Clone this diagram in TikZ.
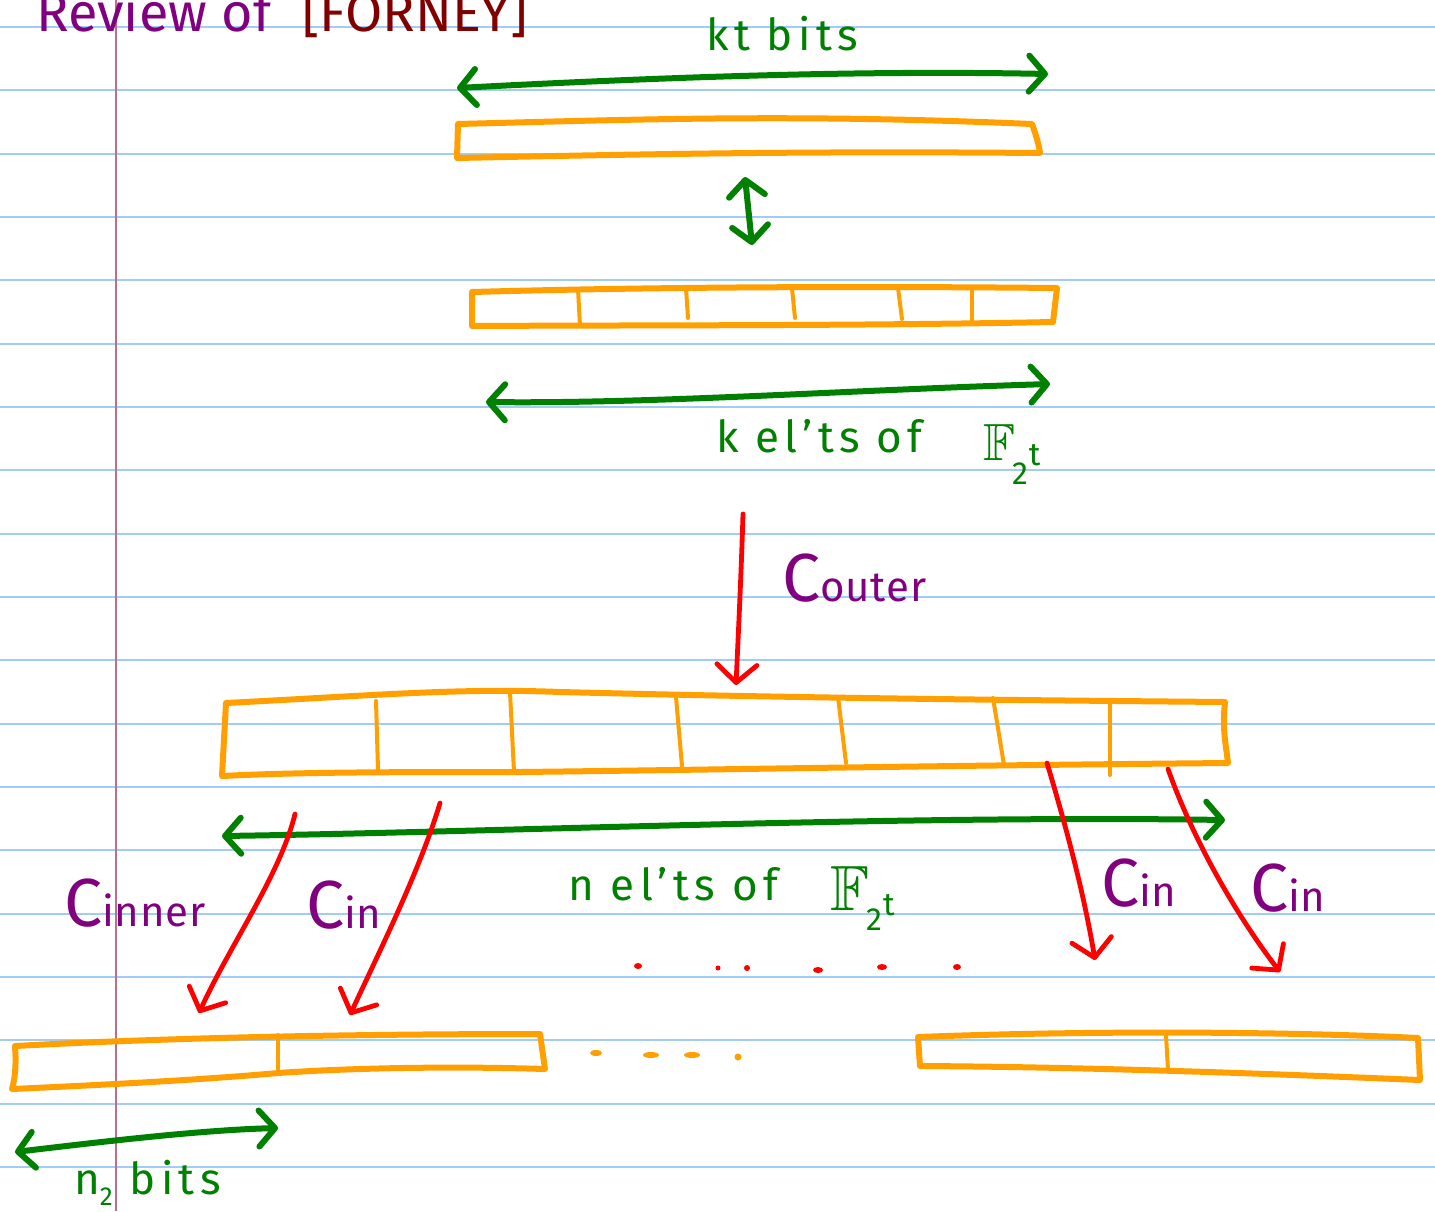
\RequirePackage{fix-cm}
\documentclass[tikz,border=0pt]{standalone}
\usepackage{fontspec}
\usepackage{amssymb}
\setmainfont{Fira Sans}
\usetikzlibrary{arrows.meta}
\definecolor{paperblue}{RGB}{160,204,245}
\definecolor{marginpink}{RGB}{190,110,140}
\definecolor{barorange}{RGB}{255,160,0}
\definecolor{pengreen}{RGB}{0,128,0}
\definecolor{penpurple}{RGB}{128,0,128}
\definecolor{penred}{RGB}{255,0,0}
\definecolor{darkred}{RGB}{128,0,0}
% #1 = height of the F, #2 = lowering of the 2, #3 = lowering of the t
\newcommand\fieldtwot[3]{\resizebox{!}{#1}{$\mathbb{F}$}\kern-3pt\raisebox{-#2}{\fontsize{32}{32}\selectfont 2}\kern1pt\raisebox{-#3}{\fontsize{32}{32}\selectfont t}}
\newcommand\bigC{\fontsize{68}{68}\selectfont C}
\newcommand\smalltail[1]{{\fontsize{42}{42}\selectfont\addfontfeature{LetterSpace=2}#1}}
\tikzset{
  gtip/.tip={Straight Barb[length=16pt,width=36pt,round]},
  rtip/.tip={Straight Barb[length=18pt,width=40pt,round]},
  ruled/.style={draw=paperblue,line width=2pt},
  marginline/.style={draw=marginpink,line width=1.5pt},
  bar/.style={draw=barorange,line width=6pt,line cap=round,line join=round},
  divider/.style={draw=barorange,line width=4pt,line cap=round},
  dimarrow/.style={draw=pengreen,line width=6pt,line cap=round,{gtip}-{gtip}},
  maparrow/.style={draw=penred,line width=4.8pt,line cap=round,-{rtip}},
  greenlabel/.style={text=pengreen,inner sep=0pt,font=\fontsize{44}{48}\selectfont\addfontfeature{LetterSpace=12}},
  purplelabel/.style={text=penpurple,inner sep=0pt},
  titlefont/.style={inner sep=0pt,font=\fontsize{54}{58}\selectfont},
  reddot/.style={fill=penred},
  orangedot/.style={fill=barorange}
}
\begin{document}
\begin{tikzpicture}[x=1pt,y=-1pt]
\useasboundingbox (0,0) rectangle (1435,1211);
\clip (0,0) rectangle (1435,1211);
\fill[white] (0,0) rectangle (1435,1211);
% ruled paper
\foreach \k in {0,...,18}{
  \draw[ruled] (0,27+63.33*\k) -- (1435,27+63.33*\k);
}
\draw[marginline] (116,0) -- (116,1211);

% title
\node[titlefont,anchor=base west,text=penpurple] (titleA) at (36,31) {Review of};
\node[titlefont,anchor=base west,text=darkred] (titleB) at (302,31) {[FORNEY]};

% top: kt bits
\node[greenlabel,anchor=base] (ktlabel) at (782,50) {kt bits};
\coordinate (ktL) at (457,88);
\coordinate (ktR) at (1048,74);
\draw[dimarrow] (ktL) .. controls (650,78) and (850,70) .. (ktR);

% top bar
\draw[bar] (458,124) .. controls (650,119) and (800,114) .. (1032,124)
  .. controls (1036,135) and (1039,145) .. (1040,153)
  .. controls (800,151) and (650,154) .. (457,158) -- cycle;

% vertical double arrow
\coordinate (vA) at (745,177);
\coordinate (vB) at (752,245);
\draw[dimarrow] (vA) -- (vB);

% second bar
\draw[bar] (472,292) .. controls (650,287) and (850,286) .. (1057,288)
  -- (1053,322) .. controls (850,326) and (650,325) .. (472,326) -- cycle;
\draw[divider] (578,289) -- (580,326);
\draw[divider] (686,288) -- (688,318);
\draw[divider] (792,288) -- (795,318);
\draw[divider] (898,288) -- (902,319);
\draw[divider] (972,288) -- (972,322);

% k el'ts arrow
\coordinate (kL) at (486,402);
\coordinate (kR) at (1050,384);
\draw[dimarrow] (kL) .. controls (650,404) and (850,390) .. (kR);
\node[greenlabel,anchor=base west] (klabel) at (716,452) {k el’ts of};
\node[greenlabel,anchor=base west] (kfield) at (983,460) {\fieldtwot{36pt}{24pt}{5pt}};

% outer code arrow
\coordinate (oS) at (743,514);
\coordinate (oE) at (736,685);
\draw[maparrow] (oS) .. controls (741,580) and (738,640) .. (oE);
\node[purplelabel,anchor=base west] (couter) at (782,601) {\bigC\smalltail{outer}};

% big bar
\draw[bar] (226,703) .. controls (380,695) and (460,688) .. (560,692)
  .. controls (800,698) and (1000,700) .. (1225,702)
  .. controls (1222,730) and (1226,745) .. (1228,763)
  .. controls (900,766) and (700,770) .. (520,772)
  .. controls (400,772) and (300,772) .. (222,776) -- cycle;
\draw[divider] (376,701) -- (378,770);
\draw[divider] (510,692) -- (514,772);
\draw[divider] (676,697) -- (682,766);
\draw[divider] (838,697) -- (846,763);
\draw[divider] (993,698) -- (1004,765);
\draw[divider] (1110,700) -- (1110,775);

% n el'ts arrow
\coordinate (nL) at (222,836);
\coordinate (nR) at (1225,820);
\draw[dimarrow] (nL) .. controls (500,832) and (900,815) .. (nR);
\node[greenlabel,anchor=base west] (nlabel) at (568,900) {n el’ts of};
\node[greenlabel,anchor=base west] (nfield) at (830,910) {\fieldtwot{44pt}{20pt}{5pt}};

% inner code arrows
\coordinate (r1S) at (295,814);
\coordinate (r1E) at (199,1013);
\draw[maparrow] (r1S) .. controls (280,875) and (230,945) .. (r1E);
\coordinate (r2S) at (440,803);
\coordinate (r2E) at (350,1015);
\draw[maparrow] (r2S) .. controls (420,870) and (380,950) .. (r2E);
\coordinate (r3S) at (1047,763);
\coordinate (r3E) at (1095,960);
\draw[maparrow] (r3S) .. controls (1070,840) and (1085,900) .. (r3E);
\coordinate (r4S) at (1168,769);
\coordinate (r4E) at (1280,972);
\draw[maparrow] (r4S) .. controls (1195,845) and (1240,920) .. (r4E);

\node[purplelabel,anchor=base west] (cinner) at (64,926) {\bigC\smalltail{inner}};
\node[purplelabel,anchor=base west] (cin1) at (306,928) {\bigC\smalltail{in}};
\node[purplelabel,anchor=base west] (cin2) at (1101,906) {\bigC\smalltail{in}};
\node[purplelabel,anchor=base west] (cin3) at (1250,911) {\bigC\smalltail{in}};

% red dots
\fill[reddot] (638,966) ellipse (4pt and 3pt);
\fill[reddot] (718,968) circle (2.5pt);
\fill[reddot] (747,968) circle (3pt);
\fill[reddot] (818,970) ellipse (5pt and 3pt);
\fill[reddot] (882,967) ellipse (5pt and 3pt);
\fill[reddot] (957,967) ellipse (4pt and 3pt);

% orange dashes
\fill[orangedot] (596,1053) ellipse (6pt and 3pt);
\fill[orangedot] (651,1055) ellipse (8pt and 3pt);
\fill[orangedot] (692,1055) ellipse (8pt and 3pt);
\fill[orangedot] (738,1057) circle (3.5pt);

% bottom left bar
\draw[bar] (15,1046) .. controls (200,1036) and (400,1034) .. (540,1034)
  -- (545,1069) .. controls (450,1066) and (350,1068) .. (278,1073)
  .. controls (200,1080) and (100,1085) .. (12,1089)
  .. controls (16,1075) and (16,1060) .. cycle;
\draw[divider] (278,1035) -- (278,1073);

% bottom right bar
\draw[bar] (918,1037) .. controls (1100,1030) and (1300,1032) .. (1418,1038)
  -- (1420,1080) .. controls (1300,1075) and (1100,1067) .. (920,1066) -- cycle;
\draw[divider] (1166,1035) -- (1168,1070);

% n2 bits
\coordinate (n2L) at (15,1152);
\coordinate (n2R) at (278,1128);
\draw[dimarrow] (n2L) .. controls (100,1142) and (200,1130) .. (n2R);
\node[greenlabel,anchor=base west] (n2label) at (74,1194) {n\raisebox{-0.25em}{\fontsize{26}{26}\selectfont 2} bits};
\end{tikzpicture}
\end{document}
